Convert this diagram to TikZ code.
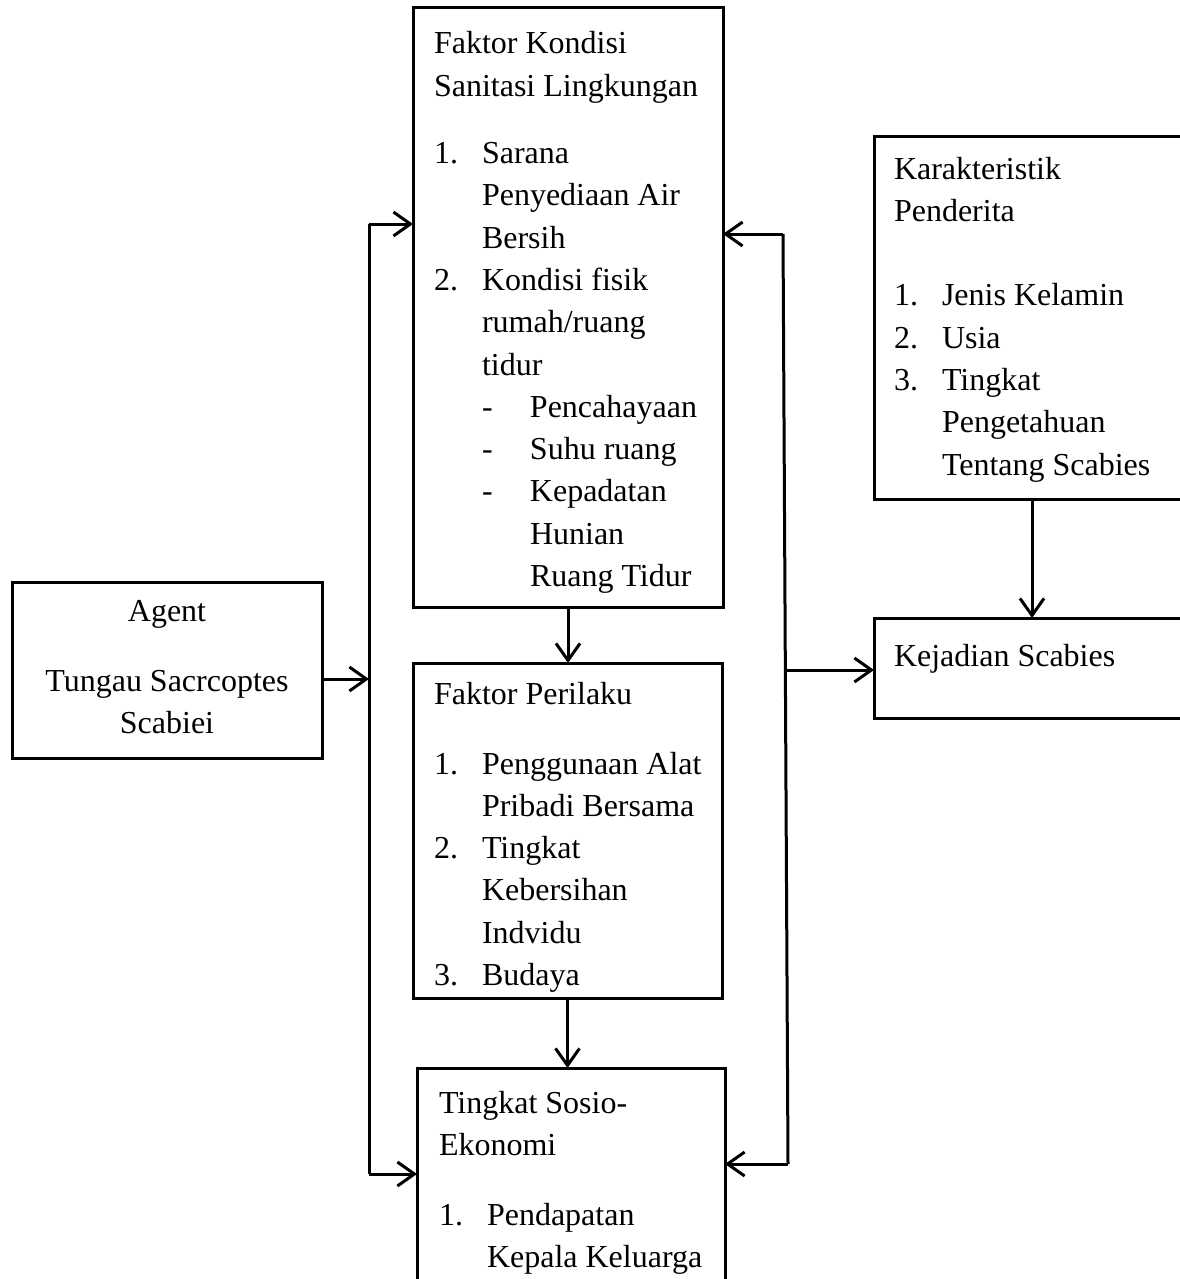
\documentclass[tikz,border=0pt]{standalone}
\usepackage{fontspec}
\setmainfont{Liberation Serif}
\usetikzlibrary{arrows.meta}
\newcommand\numit[1]{\makebox[48pt][l]{#1}}
\newcommand\indt{\hspace*{48pt}}
\begin{document}
\begin{tikzpicture}[x=1pt,y=-1pt,
  box/.style={draw, line width=3pt, inner sep=0pt, outer sep=0pt},
  txt/.style={inner sep=0pt, outer sep=0pt, font=\fontsize{32}{42.3}\selectfont},
  conn/.style={line width=3pt},
  arr/.style={line width=3pt, -{Straight Barb[length=17pt,width=24pt,line width=3pt]}}]
\useasboundingbox[fill=white] (0,0) rectangle (1179,1279);

% boxes
\node[box, minimum width=310pt, minimum height=599pt] (b1) at (568,307.5) {};
\node[box, minimum width=316pt, minimum height=362pt] (b2) at (1032,318) {};
\node[box, minimum width=310pt, minimum height=176pt] (b3) at (167,670) {};
\node[box, minimum width=309pt, minimum height=335pt] (b4) at (567.5,830.5) {};
\node[box, minimum width=316pt, minimum height=100pt] (b5) at (1032,668) {};
\node[box, minimum width=308pt, minimum height=232pt] (b6) at (571,1184) {};

% texts
\node[txt, anchor=base west] (t1) at (434,54) {\begin{tabular}[t]{@{}l@{}}
Faktor Kondisi\\
Sanitasi Lingkungan\\[25pt]
\numit{1.}Sarana\\
\indt Penyediaan Air\\
\indt Bersih\\
\numit{2.}Kondisi fisik\\
\indt rumah/ruang\\
\indt tidur\\
\indt\numit{-}Pencahayaan\\
\indt\numit{-}Suhu ruang\\
\indt\numit{-}Kepadatan\\
\indt\indt Hunian\\
\indt\indt Ruang Tidur
\end{tabular}};

\node[txt, anchor=base west] (t2) at (894,179) {\begin{tabular}[t]{@{}l@{}}
Karakteristik\\
Penderita\\
\\
\numit{1.}Jenis Kelamin\\
\numit{2.}Usia\\
\numit{3.}Tingkat\\
\indt Pengetahuan\\
\indt Tentang Scabies
\end{tabular}};

\node[txt, anchor=base] (t3) at (167,621) {\begin{tabular}[t]{@{}c@{}}
Agent\\[28pt]
Tungau Sacrcoptes\\
Scabiei
\end{tabular}};

\node[txt, anchor=base west] (t4) at (434,704) {\begin{tabular}[t]{@{}l@{}}
Faktor Perilaku\\[27.7pt]
\numit{1.}Penggunaan Alat\\
\indt Pribadi Bersama\\
\numit{2.}Tingkat\\
\indt Kebersihan\\
\indt Indvidu\\
\numit{3.}Budaya
\end{tabular}};

\node[txt, anchor=base west] (t5) at (894,666) {Kejadian Scabies};

\node[txt, anchor=base west] (t6) at (439,1113) {\begin{tabular}[t]{@{}l@{}}
Tingkat Sosio-\\
Ekonomi\\[27.7pt]
\numit{1.}Pendapatan\\
\indt Kepala Keluarga
\end{tabular}};

% junction coordinates
\coordinate (lt) at (369,224);
\coordinate (lm) at (369,679);
\coordinate (lb) at (369,1174);
\coordinate (rt) at (783,234);
\coordinate (rm) at (785.5,670);
\coordinate (rb) at (788,1164);

% connectors
\draw[conn] (lt) -- (lb);
\draw[conn] (rt) -- (rb);
\draw[arr] (b3.east |- lm) -- (lm);
\draw[arr] (lt) -- (lt -| b1.west);
\draw[arr] (lb) -- (lb -| b6.west);
\draw[arr] (rt) -- (rt -| b1.east);
\draw[arr] (rb) -- (rb -| b6.east);
\draw[arr] (rm) -- (rm -| b5.west);
\draw[arr] (b1.south) -- (b1.south |- b4.north);
\draw[arr] (b4.south) -- (b4.south |- b6.north);
\draw[arr] (b2.south) -- (b2.south |- b5.north);
\end{tikzpicture}
\end{document}
